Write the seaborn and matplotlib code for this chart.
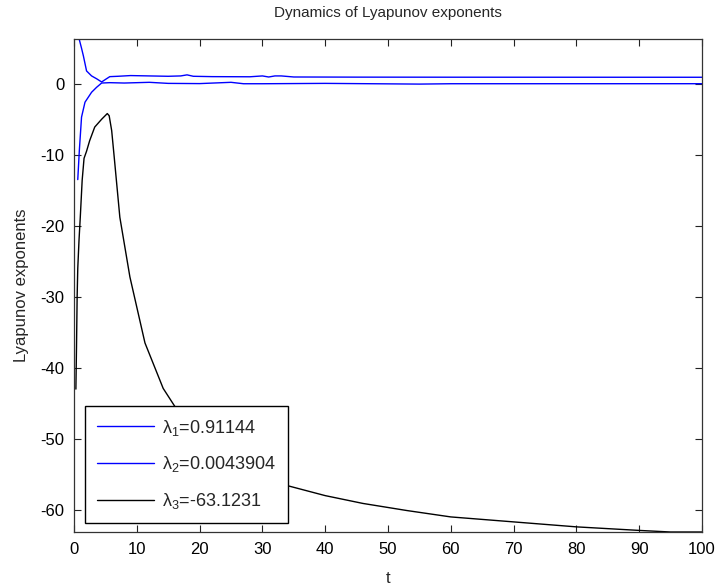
import numpy as np
import pandas as pd
import matplotlib
matplotlib.use("Agg")
import matplotlib.pyplot as plt
import seaborn as sns

# ---- data ----
t1 = [0.7, 0.85, 1.2, 1.5, 2.0, 2.8, 3.6, 4.4, 5.0, 5.7, 7, 9, 12, 15, 17, 18, 19, 22, 28, 30, 31, 32, 33, 35, 45, 60, 80, 100]
lam1 = [6.3, 6.2, 5.0, 3.9, 1.8, 1.1, 0.7, 0.25, 0.6, 1.0, 1.05, 1.15, 1.1, 1.05, 1.1, 1.25, 1.05, 1.0, 0.98, 1.1, 0.95, 1.1, 1.1, 0.95, 0.93, 0.92, 0.915, 0.91144]

t2 = [0.6, 0.85, 1.2, 1.75, 2.8, 3.6, 4.4, 5.7, 8, 12, 15, 20, 25, 27, 30, 40, 55, 60, 100]
lam2 = [-13.5, -9.4, -4.7, -2.6, -1.2, -0.5, 0.1, 0.15, 0.1, 0.2, 0.05, 0.02, 0.2, 0.0, 0.0, 0.05, -0.05, 0.0, 0.0043904]

t3 = [0.3, 0.4, 0.5, 0.6, 0.8, 1.0, 1.3, 1.6, 2.0, 2.5, 3.3, 4.4, 5.3, 5.6, 6.0, 6.4, 7.3, 8.9, 11.3, 14.2, 16.1, 20, 25, 30, 34, 40, 46, 53, 60, 70, 80, 90, 95, 100]
lam3 = [-43, -37, -30, -26, -22, -18.8, -13.6, -10.5, -9.5, -8, -6.1, -5.0, -4.2, -4.5, -6.6, -10.3, -18.8, -27.2, -36.5, -42.9, -45.5, -49, -52.6, -55.3, -56.6, -58.0, -59.1, -60.1, -61.0, -61.7, -62.4, -62.9, -63.1231, -63.1231]

labels = [r"λ$_1$=0.91144", r"λ$_2$=0.0043904", r"λ$_3$=-63.1231"]
colors = ["#0000ff", "#0000ff", "#000000"]

title = "Dynamics of Lyapunov exponents"
xlabel = "t"
ylabel = "Lyapunov exponents"
xticks = [0, 10, 20, 30, 40, 50, 60, 70, 80, 90, 100]
yticks = [0, -10, -20, -30, -40, -50, -60]

# ---- style ----
sns.set_theme(style="white")
plt.rcParams["font.family"] = ["Liberation Sans", "DejaVu Sans"]
plt.rcParams["mathtext.fontset"] = "custom"
plt.rcParams["mathtext.rm"] = "Liberation Sans"
plt.rcParams["mathtext.it"] = "Liberation Sans"
plt.rcParams["mathtext.default"] = "regular"
plt.rcParams["axes.unicode_minus"] = False

fig = plt.figure(figsize=(7.18, 5.87), dpi=100)
ax = fig.add_axes([74 / 718, 1 - 532 / 587, (702 - 74) / 718, (532 - 39) / 587])

series = [(t1, lam1), (t2, lam2), (t3, lam3)]
for (tt, yy), lab, col in zip(series, labels, colors):
    df = pd.DataFrame({"t": tt, "v": yy})
    sns.lineplot(data=df, x="t", y="v", ax=ax, color=col, linewidth=1.0,
                 sort=False, estimator=None, label=lab)

ax.set_xlim(0, 100)
ax.set_ylim(-63.1231, 6.3)
ax.set_xticks(xticks)
ax.set_yticks(yticks)
ax.tick_params(direction="in", length=5, width=0.8, colors="#222222",
               labelcolor="black", labelsize=12, top=True, right=True,
               bottom=True, left=True, pad=7)
for s in ax.spines.values():
    s.set_color("#333333")
    s.set_linewidth(0.9)

ax.set_title(title, fontsize=11, y=1.044, pad=0)
ax.set_xlabel(xlabel, fontsize=12, labelpad=10)
ax.set_ylabel(ylabel, fontsize=12, labelpad=8)

leg = ax.legend(loc="lower left", bbox_to_anchor=(0.0175, 0.018), borderaxespad=0,
                fontsize=13, handlelength=3.15, handletextpad=0.45,
                labelspacing=0.92, borderpad=0.67, fancybox=False, frameon=True)
leg.get_frame().set_edgecolor("black")
leg.get_frame().set_linewidth(1.0)
leg.get_frame().set_alpha(1.0)

fig.savefig("out.png", dpi=100)
